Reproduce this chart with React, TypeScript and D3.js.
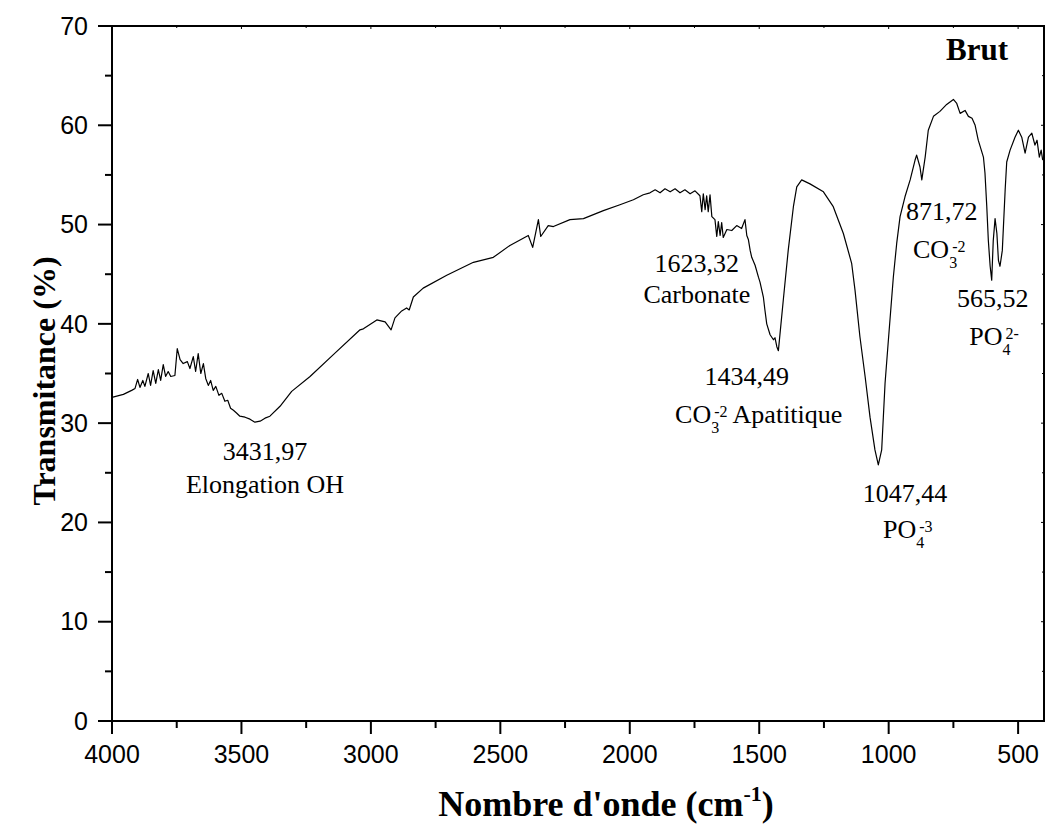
import React from "react";
import * as d3 from "d3";

// Spectrum trace: wavenumber (cm-1) and transmittance (%)
const wavenumbers = [
  4000, 3956, 3924, 3911, 3901, 3892, 3881, 3873, 3860, 3851, 3841, 3831, 3821, 3812, 3802, 3793,
  3783, 3773, 3757, 3748, 3737, 3725, 3709, 3699, 3686, 3677, 3667, 3657, 3647, 3638, 3628, 3619,
  3609, 3599, 3587, 3576, 3564, 3553, 3542, 3531, 3518, 3506, 3486, 3467, 3448, 3428, 3409, 3390,
  3351, 3306, 3235, 3145, 3042, 3029, 2977, 2945, 2922, 2907, 2881, 2862, 2852, 2836, 2798, 2707,
  2604, 2527, 2463, 2392, 2375, 2353, 2344, 2315, 2295, 2231, 2179, 2102, 2038, 1986, 1948, 1922,
  1902, 1883, 1864, 1844, 1825, 1806, 1787, 1767, 1748, 1729, 1722, 1716, 1709, 1703, 1697, 1690,
  1683, 1671, 1664, 1658, 1651, 1645, 1639, 1625, 1606, 1587, 1568, 1555, 1548, 1542, 1535, 1529,
  1516, 1503, 1497, 1484, 1478, 1471, 1458, 1445, 1439, 1432, 1426, 1407, 1388, 1368, 1355, 1336,
  1304, 1252, 1214, 1175, 1143, 1130, 1111, 1091, 1072, 1053, 1040, 1027, 1014, 1001, 982, 969,
  956, 937, 917, 898, 892, 879, 872, 859, 847, 827, 802, 776, 750, 737, 724, 705,
  692, 678, 666, 654, 634, 628, 621, 615, 608, 602, 596, 589, 582, 576, 570, 561,
  550, 544, 531, 512, 499, 486, 473, 460, 447, 435, 427, 418, 411, 405,
];
const transmittance = [
  32.6, 32.9, 33.3, 33.5, 34.4, 33.6, 34.3, 33.7, 35.0, 33.8, 35.3, 34.0, 35.4, 34.3, 35.9, 34.7,
  35.2, 34.7, 34.8, 37.5, 36.4, 36.0, 36.2, 35.5, 36.7, 35.2, 37.0, 35.0, 36.0, 34.5, 33.8, 34.3,
  33.3, 33.7, 32.8, 33.0, 32.2, 32.3, 31.5, 31.3, 31.0, 30.7, 30.6, 30.4, 30.1, 30.2, 30.5, 30.7,
  31.7, 33.2, 34.7, 36.9, 39.4, 39.5, 40.4, 40.2, 39.4, 40.6, 41.3, 41.6, 41.4, 42.7, 43.6, 44.9,
  46.2, 46.7, 47.9, 48.9, 47.7, 50.5, 48.8, 49.9, 49.8, 50.5, 50.6, 51.4, 52.0, 52.5, 53.0, 53.2,
  53.5, 53.2, 53.6, 53.3, 53.6, 53.2, 53.5, 53.1, 53.4, 52.9, 51.3, 53.1, 51.5, 52.9, 51.3, 53.0,
  50.8, 50.5, 48.8, 50.3, 48.9, 50.2, 48.7, 49.5, 49.4, 49.9, 49.6, 50.5, 48.9, 48.5, 47.4, 46.7,
  45.9, 44.7, 44.2, 42.7, 41.4, 40.0, 38.9, 38.4, 38.6, 37.7, 37.3, 42.4, 47.4, 51.8, 53.8, 54.5,
  54.1, 53.3, 51.8, 49.1, 46.1, 43.4, 38.7, 34.7, 30.6, 27.3, 25.8, 27.3, 34.0, 38.4, 44.7, 48.1,
  50.8, 52.8, 54.5, 56.5, 57.0, 55.8, 54.5, 56.8, 59.5, 60.9, 61.4, 62.1, 62.6, 62.2, 61.2, 61.5,
  60.9, 60.7, 60.0, 58.5, 56.8, 55.2, 51.8, 48.4, 45.8, 44.4, 48.4, 50.6, 49.1, 46.4, 45.8, 47.4,
  53.5, 56.3, 57.5, 58.8, 59.5, 58.8, 57.2, 58.8, 59.2, 58.0, 58.5, 56.8, 57.5, 56.5,
];

const xMajorTicks = [4000, 3500, 3000, 2500, 2000, 1500, 1000, 500];
const xMinorTicks = [3750, 3250, 2750, 2250, 1750, 1250, 750];
const yMajorTicks = [0, 10, 20, 30, 40, 50, 60, 70];
const yMinorTicks = [5, 15, 25, 35, 45, 55, 65];

// Annotations: first line (value) and second line (assignment)
const annoValues = ["3431,97", "1623,32", "1434,49", "1047,44", "871,72", "565,52"];
const annoWn = [3409, 1741, 1548, 937, 795, 598];
const annoT = [26.3, 45.2, 33.8, 22.1, 50.5, 41.7];
const annoMain2 = ["Elongation OH", "Carbonate", "CO", "PO", "CO", "PO"];
const annoSub2 = ["", "", "3", "4", "3", "4"];
const annoSup2 = ["", "", "-2", "-3", "-2", "2-"];
const annoTail2 = ["", "", " Apatitique", "", "", ""];
const anno2Wn = [3409, 1741, 1825, 1022, 906, 689];
const anno2T = [23.0, 42.1, 30.0, 18.4, 46.6, 37.9];
const anno2Centered = [true, true, false, false, false, false];

const W = 1047;
const H = 829;
const L = 112, R = 1044, T = 26, B = 721;

export default function App() {
  const x = d3.scaleLinear().domain([4000, 400]).range([L, R]);
  const y = d3.scaleLinear().domain([0, 70]).range([B, T]);
  const pts: [number, number][] = wavenumbers.map((w, i) => [w, transmittance[i]]);
  const line = d3
    .line<[number, number]>()
    .x((d) => x(d[0]))
    .y((d) => y(d[1]))
    .curve(d3.curveLinear);

  const sans = "'Liberation Sans', Arial, sans-serif";
  const serif = "'Liberation Serif', 'Times New Roman', serif";

  return (
    <svg
      width={W}
      height={H}
      style={{ position: "absolute", left: 0, top: 0, background: "#fff" }}
      xmlns="http://www.w3.org/2000/svg"
    >
      <rect x={0} y={0} width={W} height={H} fill="#fff" />
      {/* data curve */}
      <path d={line(pts) || ""} fill="none" stroke="#000" strokeWidth={1.2} strokeLinejoin="round" />

      {/* frame */}
      <rect x={L} y={T} width={R - L} height={B - T} fill="none" stroke="#000" strokeWidth={2} />

      {/* bottom axis ticks */}
      {xMajorTicks.map((v) => (
        <g key={"xm" + v}>
          <line x1={x(v)} x2={x(v)} y1={B} y2={B + 13} stroke="#000" strokeWidth={2} />
          <line x1={x(v)} x2={x(v)} y1={T} y2={T + 3} stroke="#000" strokeWidth={1} />
          <text x={x(v)} y={763} fontFamily={sans} fontSize={25} textAnchor="middle" fill="#000">
            {v}
          </text>
        </g>
      ))}
      {xMinorTicks.map((v) => (
        <g key={"xn" + v}>
          <line x1={x(v)} x2={x(v)} y1={B} y2={B + 7} stroke="#000" strokeWidth={2} />
          <line x1={x(v)} x2={x(v)} y1={T} y2={T + 2} stroke="#000" strokeWidth={1} />
        </g>
      ))}

      {/* left axis ticks */}
      {yMajorTicks.map((v) => (
        <g key={"ym" + v}>
          <line x1={L - 14} x2={L} y1={y(v)} y2={y(v)} stroke="#000" strokeWidth={2} />
          <line x1={R - 3} x2={R} y1={y(v)} y2={y(v)} stroke="#000" strokeWidth={1} />
          <text
            x={L - 24}
            y={y(v)}
            dy="0.35em"
            fontFamily={sans}
            fontSize={25}
            textAnchor="end"
            fill="#000"
          >
            {v}
          </text>
        </g>
      ))}
      {yMinorTicks.map((v) => (
        <g key={"yn" + v}>
          <line x1={L - 7} x2={L} y1={y(v)} y2={y(v)} stroke="#000" strokeWidth={2} />
          <line x1={R - 2} x2={R} y1={y(v)} y2={y(v)} stroke="#000" strokeWidth={1} />
        </g>
      ))}

      {/* axis titles */}
      <text x={606} y={816} fontFamily={serif} fontSize={36} fontWeight="bold" textAnchor="middle" fill="#000">
        Nombre d'onde (cm
        <tspan fontSize={22} dy={-15}>-1</tspan>
        <tspan dy={15}>)</tspan>
      </text>
      <text
        transform={`translate(55, 381) rotate(-90)`}
        fontFamily={serif}
        fontSize={32}
        fontWeight="bold"
        textAnchor="middle"
        fill="#000"
      >
        Transmitance (%)
      </text>

      {/* sample label */}
      <text x={1008} y={60} fontFamily={serif} fontSize={31} fontWeight="bold" textAnchor="end" fill="#000">
        Brut
      </text>

      {/* peak annotations */}
      {annoValues.map((v, i) => (
        <g key={"a" + i} fontFamily={serif} fill="#000">
          <text x={x(annoWn[i])} y={y(annoT[i])} fontSize={26} textAnchor="middle">
            {v}
          </text>
          <text
            x={x(anno2Wn[i])}
            y={y(anno2T[i])}
            fontSize={26}
            textAnchor={anno2Centered[i] ? "middle" : "start"}
          >
            {annoMain2[i]}
            {annoSub2[i] && (
              <tspan fontSize={16} dy={10}>
                {annoSub2[i]}
              </tspan>
            )}
            {annoSup2[i] && (
              <tspan fontSize={16} dx={-5} dy={-16}>
                {annoSup2[i]}
              </tspan>
            )}
            {annoTail2[i] && <tspan dy={6}>{annoTail2[i]}</tspan>}
          </text>
        </g>
      ))}
    </svg>
  );
}
